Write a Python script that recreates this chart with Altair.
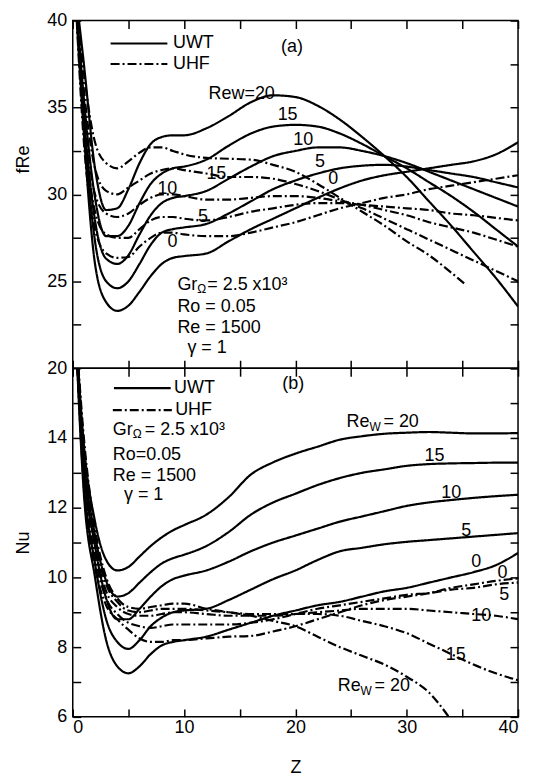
import altair as alt
import pandas as pd

FONT = "Liberation Sans"

# ---------------- data ----------------
Z_GRID = [0.2, 1, 2, 3, 4, 5, 6, 7, 8, 9, 10, 12, 14, 16, 18, 20, 22, 24, 26, 28, 30, 32, 34, 36, 38, 40]

# panel (a): fRe, UWT (solid)
A_UWT_0 = [42, 33.5, 26.0, 23.8, 23.3, 23.6, 24.4, 25.3, 26.0, 26.35, 26.45, 26.6, 27.3, 28.0, 28.6, 29.2, 29.8, 30.35, 30.8, 31.1, 31.3, 31.5, 31.7, 31.9, 32.3, 33.0]
A_UWT_5 = [42, 34.0, 27.3, 25.0, 24.6, 25.0, 26.0, 27.1, 27.8, 28.0, 28.1, 28.3, 28.9, 29.6, 30.3, 30.8, 31.2, 31.5, 31.65, 31.7, 31.6, 31.4, 31.2, 31.0, 30.7, 30.4]
A_UWT_10 = [42, 34.5, 28.5, 26.3, 26.0, 26.5, 27.7, 28.8, 29.5, 29.8, 29.9, 30.2, 30.9, 31.6, 32.2, 32.5, 32.7, 32.7, 32.5, 32.2, 31.8, 31.3, 30.8, 30.3, 29.8, 29.3]
A_UWT_15 = [42, 35.5, 29.8, 27.6, 27.6, 28.2, 29.5, 30.6, 31.2, 31.5, 31.6, 32.0, 32.8, 33.5, 33.9, 34.0, 33.9, 33.5, 32.9, 32.2, 31.5, 30.7, 29.9, 29.0, 28.0, 27.0]
A_UWT_20 = [42, 37.5, 31.5, 29.1, 29.2, 30.3, 31.8, 32.9, 33.3, 33.4, 33.4, 33.8, 34.5, 35.3, 35.7, 35.6, 35.1, 34.3, 33.3, 32.2, 31.0, 29.6, 28.2, 26.7, 25.2, 23.55]

# panel (a): fRe, UHF (dash-dot)
A_UHF_0 = [42, 33, 28, 26.6, 26.35, 26.4, 27.0, 27.5, 27.8, 27.8, 27.7, 27.6, 27.6, 27.8, 28.1, 28.4, 28.8, 29.2, 29.5, 29.8, 30.0, 30.3, 30.5, 30.7, 30.9, 31.1]
A_UHF_5 = [42, 34, 29, 27.7, 27.5, 27.5, 28.0, 28.5, 28.7, 28.7, 28.6, 28.5, 28.7, 29.0, 29.2, 29.4, 29.5, 29.5, 29.4, 29.3, 29.2, 29.1, 28.9, 28.8, 28.65, 28.5]
A_UHF_10 = [42, 35, 30, 28.9, 28.7, 28.9, 29.4, 29.8, 30.0, 30.0, 29.9, 29.7, 29.7, 29.8, 29.9, 29.9, 29.8, 29.6, 29.4, 29.1, 28.8, 28.4, 28.1, 27.8, 27.4, 27.0]
A_UHF_15 = [42, 36, 31.5, 30.2, 30.0, 30.4, 30.8, 31.2, 31.4, 31.5, 31.4, 31.2, 31.0, 31.0, 30.9, 30.6, 30.2, 29.7, 29.2, 28.6, 28.0, 27.4, 26.8, 26.2, 25.6, 25.0]
A_UHF_20_Z = [0.2, 1, 2, 3, 4, 5, 6, 7, 8, 9, 10, 12, 14, 16, 18, 20, 22, 24, 26, 28, 30, 32, 34, 35.3]
A_UHF_20 = [42, 37, 33, 31.8, 31.5, 31.9, 32.4, 32.7, 32.7, 32.5, 32.3, 32.1, 32.05, 32.0, 31.7, 31.3, 30.6, 29.8, 29.0, 28.2, 27.3, 26.5, 25.5, 24.8]

# panel (b): Nu, UWT (solid)
B_UWT_0 = [17.5, 12.4, 10.0, 8.2, 7.45, 7.25, 7.45, 7.8, 8.05, 8.15, 8.2, 8.3, 8.5, 8.7, 8.9, 9.05, 9.2, 9.3, 9.45, 9.6, 9.7, 9.85, 10.0, 10.15, 10.35, 10.7]
B_UWT_5 = [17.5, 12.8, 10.4, 8.8, 8.15, 7.95, 8.2, 8.6, 8.85, 9.0, 9.05, 9.1, 9.35, 9.65, 9.95, 10.2, 10.5, 10.75, 10.85, 10.95, 11.02, 11.07, 11.12, 11.17, 11.22, 11.27]
B_UWT_10 = [17.5, 13.2, 10.9, 9.4, 8.8, 8.8, 9.1, 9.45, 9.75, 9.95, 10.05, 10.2, 10.45, 10.75, 11.0, 11.2, 11.4, 11.6, 11.75, 11.9, 12.05, 12.15, 12.22, 12.28, 12.33, 12.37]
B_UWT_15 = [17.5, 13.5, 11.2, 9.9, 9.45, 9.55, 9.85, 10.15, 10.4, 10.55, 10.65, 10.9, 11.3, 11.8, 12.15, 12.4, 12.65, 12.85, 13.0, 13.1, 13.2, 13.25, 13.27, 13.28, 13.29, 13.29]
B_UWT_20 = [17.5, 13.8, 11.6, 10.5, 10.2, 10.3, 10.6, 10.9, 11.15, 11.35, 11.5, 11.8, 12.3, 12.95, 13.3, 13.55, 13.75, 13.95, 14.05, 14.12, 14.15, 14.17, 14.15, 14.13, 14.13, 14.14]

# panel (b): Nu, UHF (dash-dot)
B_UHF_0 = [17.5, 12.6, 10.3, 9.2, 8.8, 8.5, 8.25, 8.15, 8.15, 8.2, 8.2, 8.25, 8.3, 8.32, 8.45, 8.6, 8.8, 9.0, 9.2, 9.35, 9.45, 9.55, 9.7, 9.8, 9.9, 9.97]
B_UHF_5 = [17.5, 13.0, 10.6, 9.4, 8.95, 8.7, 8.6, 8.55, 8.6, 8.65, 8.65, 8.65, 8.65, 8.7, 8.8, 8.95, 9.1, 9.2, 9.3, 9.4, 9.5, 9.55, 9.65, 9.7, 9.8, 9.85]
B_UHF_10 = [17.5, 13.4, 10.9, 9.6, 9.15, 8.95, 8.9, 8.9, 8.95, 9.0, 9.0, 8.95, 8.9, 8.9, 8.9, 8.95, 9.0, 9.05, 9.1, 9.1, 9.1, 9.05, 9.0, 8.95, 8.9, 8.8]
B_UHF_15 = [17.5, 13.7, 11.1, 9.8, 9.3, 9.05, 9.0, 9.05, 9.1, 9.1, 9.1, 9.05, 9.0, 8.95, 8.95, 8.95, 8.95, 8.9, 8.75, 8.6, 8.4, 8.1, 7.8, 7.5, 7.25, 7.05]
B_UHF_20_Z = [0.2, 1, 2, 3, 4, 5, 6, 7, 8, 9, 10, 12, 14, 16, 18, 20, 22, 24, 26, 28, 30, 32, 34]
B_UHF_20 = [17.5, 14.0, 11.4, 10.0, 9.4, 9.15, 9.1, 9.15, 9.2, 9.25, 9.25, 9.1, 9.0, 8.9, 8.75, 8.6, 8.3, 8.0, 7.75, 7.5, 7.15, 6.7, 5.9]

X_TICKS = [0, 5, 10, 15, 20, 25, 30, 35, 40]
A_TICKS = [20, 22.5, 25, 27.5, 30, 32.5, 35, 37.5, 40]
B_TICKS_LEFT = [6, 7, 8, 9, 10, 11, 12, 13, 14, 15]
B_TICKS_RIGHT = [6, 7, 8, 9, 10, 11, 12, 13, 14, 15, 16]


def build(series):
    rows = []
    for name, kind, zs, vs in series:
        for z, v in zip(zs, vs):
            rows.append({"series": name, "kind": kind, "Z": z, "v": v})
    return pd.DataFrame(rows)


df_a = build([
    ("uwt0", "UWT", Z_GRID, A_UWT_0), ("uwt5", "UWT", Z_GRID, A_UWT_5),
    ("uwt10", "UWT", Z_GRID, A_UWT_10), ("uwt15", "UWT", Z_GRID, A_UWT_15),
    ("uwt20", "UWT", Z_GRID, A_UWT_20),
    ("uhf0", "UHF", Z_GRID, A_UHF_0), ("uhf5", "UHF", Z_GRID, A_UHF_5),
    ("uhf10", "UHF", Z_GRID, A_UHF_10), ("uhf15", "UHF", Z_GRID, A_UHF_15),
    ("uhf20", "UHF", A_UHF_20_Z, A_UHF_20),
])
df_b = build([
    ("uwt0", "UWT", Z_GRID, B_UWT_0), ("uwt5", "UWT", Z_GRID, B_UWT_5),
    ("uwt10", "UWT", Z_GRID, B_UWT_10), ("uwt15", "UWT", Z_GRID, B_UWT_15),
    ("uwt20", "UWT", Z_GRID, B_UWT_20),
    ("uhf0", "UHF", Z_GRID, B_UHF_0), ("uhf5", "UHF", Z_GRID, B_UHF_5),
    ("uhf10", "UHF", Z_GRID, B_UHF_10), ("uhf15", "UHF", Z_GRID, B_UHF_15),
    ("uhf20", "UHF", B_UHF_20_Z, B_UHF_20),
])

# ---------------- scales ----------------
XS = alt.Scale(domain=[0, 40], nice=False, zero=False)
YA = alt.Scale(domain=[20, 40], nice=False, zero=False)
YB = alt.Scale(domain=[6, 16], nice=False, zero=False)
DASH = alt.Scale(domain=["UWT", "UHF"], range=[[1, 0], [9, 3, 2, 3]])

W = 447
HA = 349
HB = 350
LW = 2.2
TK = 8


def lines(df, ys, xaxis, yaxis):
    return alt.Chart(df).mark_line(clip=True, color="black", strokeWidth=LW,
                                   interpolate="monotone").encode(
        x=alt.X("Z:Q", scale=XS, axis=xaxis),
        y=alt.Y("v:Q", scale=ys, axis=yaxis),
        strokeDash=alt.StrokeDash("kind:N", scale=DASH, legend=None),
        detail="series:N",
    )


def frame(df, ys, xaxis, yaxis):
    return alt.Chart(df).mark_point(clip=True, opacity=0).encode(
        x=alt.X("Z:Q", scale=XS, axis=xaxis),
        y=alt.Y("v:Q", scale=ys, axis=yaxis),
    )


def label(z, v, text, ys, size=18, dx=0, dy=0, align="left"):
    d = pd.DataFrame({"Z": [z], "v": [v], "t": [text]})
    return alt.Chart(d).mark_text(font=FONT, fontSize=size, align=align,
                                  baseline="middle", dx=dx, dy=dy,
                                  color="black").encode(
        x=alt.X("Z:Q", scale=XS, axis=None),
        y=alt.Y("v:Q", scale=ys, axis=None),
        text="t:N",
    )


def legend_line(z0, z1, v, kind, ys):
    d = pd.DataFrame({"Z": [z0, z1], "v": [v, v], "kind": [kind, kind]})
    return alt.Chart(d).mark_line(color="black", strokeWidth=LW).encode(
        x=alt.X("Z:Q", scale=XS, axis=None),
        y=alt.Y("v:Q", scale=ys, axis=None),
        strokeDash=alt.StrokeDash("kind:N", scale=DASH, legend=None),
    )


def tick_axis(orient, values):
    # ticks only, pointing into the plot
    return alt.Axis(orient=orient, values=values, labels=False, title=None,
                    domain=False, grid=False, ticks=True, tickSize=TK,
                    offset=-TK, zindex=1)


# ---------------- panel (a) ----------------
a_y = alt.Axis(orient="left", values=A_TICKS, domain=False, grid=False,
               ticks=True, tickSize=TK, offset=-TK, labelPadding=6, zindex=1,
               labelExpr="datum.value % 5 == 0 ? datum.label : ''",
               title="fRe", titlePadding=14, titleY=139)

panel_a = alt.layer(
    lines(df_a, YA, tick_axis("bottom", X_TICKS), a_y),
    frame(df_a, YA, tick_axis("top", X_TICKS), tick_axis("right", A_TICKS)),
    legend_line(3.4, 8.5, 38.68, "UWT", YA),
    legend_line(3.4, 8.5, 37.5, "UHF", YA),
    label(9.0, 38.68, "UWT", YA),
    label(9.0, 37.5, "UHF", YA),
    label(19.7, 38.45, "(a)", YA, align="center"),
    label(12.2, 35.76, "Rew=20", YA),
    label(19.3, 34.56, "15", YA, align="center"),
    label(20.7, 33.1, "10", YA, align="center"),
    label(22.2, 31.86, "5", YA, align="center"),
    label(23.4, 30.9, "0", YA, align="center"),
    label(12.9, 31.17, "15", YA, align="center"),
    label(8.5, 30.3, "10", YA, align="center"),
    label(11.7, 28.7, "5", YA, align="center"),
    label(8.95, 27.28, "0", YA, align="center"),
    label(9.4, 24.76, "Gr", YA),
    label(9.4, 24.76, "Ω", YA, size=12, dx=20, dy=4),
    label(9.4, 24.76, " = 2.5 x10³", YA, dx=30),
    label(9.4, 23.5, "Ro = 0.05", YA),
    label(9.4, 22.3, "Re = 1500", YA),
    label(10.3, 21.15, "γ = 1", YA),
).properties(width=W, height=HA)

# ---------------- panel (b) ----------------
b_x = alt.Axis(orient="bottom", values=X_TICKS, domain=False, grid=False,
               ticks=True, tickSize=TK, offset=-TK, labelPadding=2, zindex=1,
               labelExpr="datum.value % 10 == 0 ? datum.label : ''",
               title="Z", titlePadding=22)
b_y = alt.Axis(orient="left", values=B_TICKS_LEFT, domain=False, grid=False,
               ticks=True, tickSize=TK, offset=-TK, labelPadding=6, zindex=1,
               labelExpr="datum.value % 2 == 0 ? datum.label : ''",
               title="Nu", titlePadding=14)

panel_b = alt.layer(
    lines(df_b, YB, b_x, b_y),
    frame(df_b, YB, tick_axis("top", X_TICKS), tick_axis("right", B_TICKS_RIGHT)),
    legend_line(3.7, 8.8, 15.43, "UWT", YB),
    legend_line(3.6, 8.9, 14.8, "UHF", YB),
    label(9.1, 15.43, "UWT", YB),
    label(9.2, 14.8, "UHF", YB),
    label(19.8, 15.54, "(b)", YB, align="center"),
    label(3.6, 14.22, "Gr", YB),
    label(3.6, 14.22, "Ω", YB, size=12, dx=20, dy=4),
    label(3.6, 14.22, "= 2.5 x10³", YB, dx=32),
    label(3.6, 13.51, "Ro=0.05", YB),
    label(3.6, 12.91, "Re = 1500", YB),
    label(4.6, 12.37, "γ = 1", YB),
    label(24.6, 14.46, "Re", YB),
    label(24.6, 14.46, "W", YB, size=12, dx=23, dy=5),
    label(24.6, 14.46, "= 20", YB, dx=37),
    label(32.5, 13.49, "15", YB, align="center"),
    label(34.0, 12.43, "10", YB, align="center"),
    label(35.35, 11.34, "5", YB, align="center"),
    label(36.25, 10.43, "0", YB, align="center"),
    label(38.6, 10.14, "0", YB, align="center"),
    label(38.75, 9.49, "5", YB, align="center"),
    label(36.7, 8.89, "10", YB, align="center"),
    label(34.4, 7.77, "15", YB, align="center"),
    label(23.8, 6.89, "Re", YB),
    label(23.8, 6.89, "W", YB, size=12, dx=23, dy=5),
    label(23.8, 6.89, "= 20", YB, dx=37),
).properties(width=W, height=HB)

chart = alt.vconcat(panel_a, panel_b, spacing=0, bounds="flush").properties(
    padding={"left": 6, "top": 1, "right": 5, "bottom": 60},
    background="white",
).configure_axis(
    labelFont=FONT, labelFontSize=18, labelColor="black",
    tickColor="black", tickWidth=1.5, tickOpacity=1,
    titleFont=FONT, titleFontSize=18, titleFontWeight="normal", titleColor="black",
).configure_view(stroke="black", strokeWidth=1.5)

chart.save("out.html", embed_options={"renderer": "svg", "actions": False})
